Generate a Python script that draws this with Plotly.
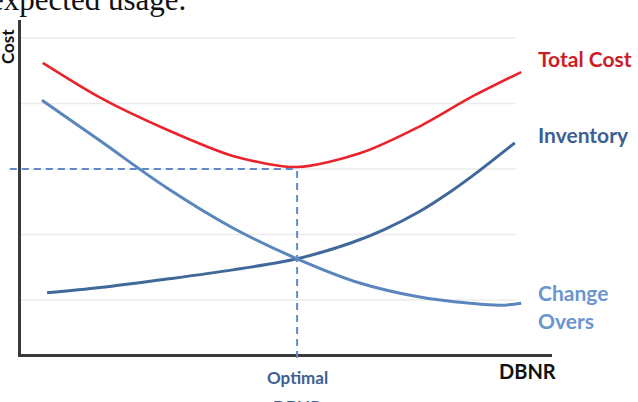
import plotly.graph_objects as go

# ---- data (conceptual cost curves) ----
dbnr_total = [4.1, 14.9, 27.5, 39.9, 52.0, 63.8, 74.8, 84.6, 94.2]
cost_total = [4.62, 4.09, 3.60, 3.20, 3.03, 3.24, 3.64, 4.09, 4.48]

dbnr_inv = [4.9, 14.9, 27.5, 39.9, 52.0, 62.1, 68.5, 74.8, 80.8, 86.4, 93.0]
cost_inv = [1.11, 1.19, 1.32, 1.46, 1.63, 1.87, 2.08, 2.34, 2.65, 2.98, 3.40]

dbnr_co = [3.95, 14.9, 27.5, 39.9, 52.0, 63.8, 74.8, 84.6, 90.2, 94.2]
cost_co = [4.05, 3.43, 2.71, 2.10, 1.63, 1.26, 1.05, 0.95, 0.92, 0.95]

grid_levels = [1, 2, 3, 4, 5]
grid_end = 93.2
optimal_dbnr = 52.0
optimal_cost = 3.0

X_RANGE = [0, 100]
Y_RANGE = [0.176, 5.275]

fig = go.Figure()
fig.add_trace(go.Scatter(x=dbnr_total, y=cost_total, mode="lines",
                         line=dict(color="#e8232b", width=2.6, shape="spline", smoothing=0.8)))
fig.add_trace(go.Scatter(x=dbnr_inv, y=cost_inv, mode="lines",
                         line=dict(color="#40699a", width=3, shape="spline", smoothing=0.9)))
fig.add_trace(go.Scatter(x=dbnr_co, y=cost_co, mode="lines",
                         line=dict(color="#5a86bd", width=3, shape="spline", smoothing=1.0)))

shapes = []
for g in grid_levels:
    shapes.append(dict(type="line", xref="x", yref="y", x0=X_RANGE[0], x1=grid_end, y0=g, y1=g,
                       line=dict(color="#ebebeb", width=1.5), layer="below"))

def xpaper(v):
    return (v - X_RANGE[0]) / (X_RANGE[1] - X_RANGE[0])

def ypaper(v):
    return (v - Y_RANGE[0]) / (Y_RANGE[1] - Y_RANGE[0])

shapes.append(dict(type="line", xref="paper", yref="y", x0=-0.021, x1=xpaper(optimal_dbnr),
                   y0=optimal_cost, y1=optimal_cost,
                   line=dict(color="#5f8cc6", width=2, dash="7px,5px")))
shapes.append(dict(type="line", xref="x", yref="paper", x0=optimal_dbnr, x1=optimal_dbnr,
                   y0=-0.012, y1=ypaper(optimal_cost),
                   line=dict(color="#5f8cc6", width=2, dash="7px,5px")))

W, H = 638, 402
L, R, T, B = 21, 86, 20, 48
PW, PH = W - L - R, H - T - B

def px(xp):
    return (xp - L) / PW

def py(yp):
    return (H - B - yp) / PH

lab_font = "Lato, Calibri, sans-serif"
ann = [
    dict(text="<b>Total Cost</b>", x=px(536), y=py(59), xanchor="left", yanchor="middle",
         font=dict(family=lab_font, size=21, color="#cc1e28")),
    dict(text="<b>Inventory</b>", x=px(536), y=py(134), xanchor="left", yanchor="middle",
         font=dict(family=lab_font, size=21, color="#3d6090")),
    dict(text="<b>Change</b>", x=px(536), y=py(292), xanchor="left", yanchor="middle",
         font=dict(family=lab_font, size=21, color="#6a95cd")),
    dict(text="<b>Overs</b>", x=px(536), y=py(320), xanchor="left", yanchor="middle",
         font=dict(family=lab_font, size=21, color="#6a95cd")),
    dict(text="<b>DBNR</b>", x=px(527), y=py(371), xanchor="center", yanchor="middle",
         font=dict(family=lab_font, size=20, color="#111111")),
    dict(text="<b>Optimal</b>", x=px(297), y=py(377), xanchor="center", yanchor="middle",
         font=dict(family=lab_font, size=17, color="#3d6090")),
    dict(text="<b>DBNR</b>", x=px(297), y=py(406), xanchor="center", yanchor="middle",
         font=dict(family=lab_font, size=17, color="#3d6090")),
    dict(text="<b>Cost</b>", x=px(7), y=py(47), xanchor="center", yanchor="middle", textangle=-90,
         font=dict(family=lab_font, size=17, color="#111111")),
    dict(text="expected usage.", x=px(-12), y=py(0), xanchor="left", yanchor="middle",
         font=dict(family="Liberation Serif, Times New Roman, serif", size=31, color="#111111")),
]
for a in ann:
    a.update(xref="paper", yref="paper", showarrow=False)

fig.update_layout(
    width=W, height=H,
    margin=dict(l=L, r=R, t=T, b=B, pad=0),
    paper_bgcolor="white", plot_bgcolor="white",
    showlegend=False,
    shapes=shapes,
    annotations=ann,
    xaxis=dict(range=X_RANGE, showgrid=False, zeroline=False, showticklabels=False, ticks="",
               showline=True, linecolor="#3a3a3a", linewidth=3),
    yaxis=dict(range=Y_RANGE, showgrid=False, zeroline=False, showticklabels=False, ticks="",
               showline=True, linecolor="#3a3a3a", linewidth=3),
)

fig.write_html("out.html")
